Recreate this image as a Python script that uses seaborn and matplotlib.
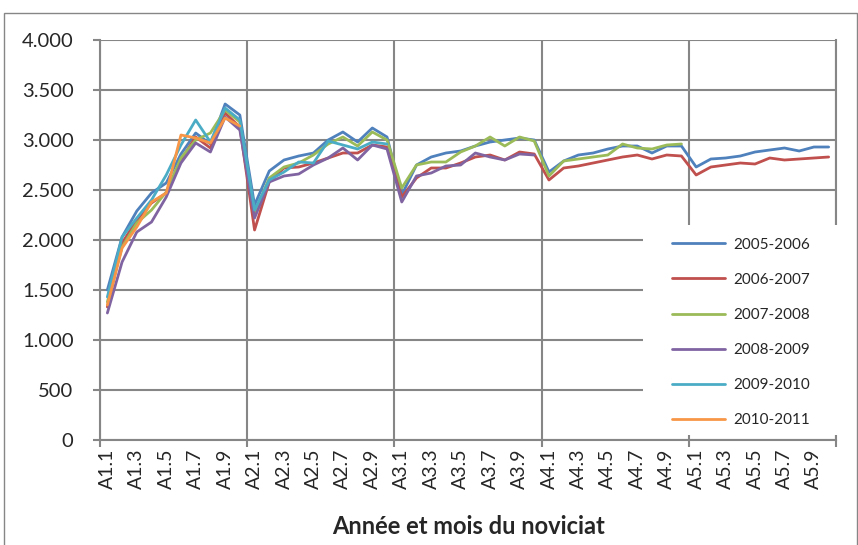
import pandas as pd
import matplotlib
matplotlib.use("Agg")
import matplotlib.pyplot as plt
import matplotlib.ticker as mticker
from matplotlib.patches import Rectangle
import seaborn as sns

# ─── data ─────────────────────────────────────────────────────────────
categories = [f"A{y}.{m}" for y in range(1, 6) for m in range(1, 11)]

s2005 = [1500, 2030, 2290, 2470, 2570, 2860, 3070, 2960, 3360, 3250,
         2350, 2690, 2800, 2840, 2870, 3000, 3080, 2980, 3120, 3030,
         2450, 2750, 2830, 2870, 2890, 2940, 2980, 3000, 3020, 3000,
         2680, 2790, 2850, 2870, 2910, 2940, 2940, 2870, 2940, 2940,
         2730, 2810, 2820, 2840, 2880, 2900, 2920, 2890, 2930, 2930]
s2006 = [1330, 1970, 2200, 2370, 2470, 2800, 3030, 2920, 3270, 3130,
         2100, 2580, 2720, 2730, 2770, 2820, 2870, 2870, 2950, 2930,
         2430, 2620, 2720, 2720, 2770, 2830, 2850, 2800, 2880, 2860,
         2600, 2720, 2740, 2770, 2800, 2830, 2850, 2810, 2850, 2840,
         2650, 2730, 2750, 2770, 2760, 2820, 2800, 2810, 2820, 2830]
s2007 = [1380, 1930, 2170, 2300, 2480, 2820, 3000, 3070, 3300, 3180,
         2270, 2620, 2730, 2770, 2850, 2960, 3030, 2940, 3080, 3000,
         2520, 2750, 2780, 2780, 2880, 2940, 3030, 2940, 3030, 2990,
         2640, 2790, 2810, 2830, 2850, 2960, 2920, 2910, 2950, 2960]
s2008 = [1270, 1780, 2080, 2180, 2430, 2770, 2970, 2880, 3230, 3100,
         2220, 2580, 2640, 2660, 2750, 2820, 2920, 2800, 2950, 2910,
         2380, 2640, 2670, 2740, 2750, 2870, 2830, 2800, 2860, 2850]
s2009 = [1430, 2030, 2220, 2400, 2650, 2950, 3200, 2980, 3320, 3200,
         2300, 2600, 2680, 2780, 2770, 2990, 2950, 2910, 2980, 2960]
s2010 = [1350, 1920, 2130, 2380, 2470, 3050, 3020, 2970, 3220, 3140]

series = {
    "2005-2006": s2005,
    "2006-2007": s2006,
    "2007-2008": s2007,
    "2008-2009": s2008,
    "2009-2010": s2009,
    "2010-2011": s2010,
}
colors = ["#4F81BD", "#C0504D", "#9BBB59", "#8064A2", "#4BACC6", "#F79646"]

rows = []
for name, vals in series.items():
    for i, v in enumerate(vals):
        rows.append({"cat": categories[i], "pos": i, "serie": name, "val": v})
df = pd.DataFrame(rows)

# ─── plot ─────────────────────────────────────────────────────────────
sns.set_style("white")
plt.rcParams["font.family"] = ["Lato", "DejaVu Sans"]

grid_c = "#868686"
fig = plt.figure(figsize=(8.58, 5.45), dpi=100)
ax = fig.add_axes([100 / 858, 1 - 440 / 545, 736 / 858, 400 / 545])

sns.lineplot(data=df, x="pos", y="val", hue="serie", hue_order=list(series),
             palette=colors, linewidth=2.0, ax=ax, legend=True)

ax.set_xlim(-0.5, len(categories) - 0.5)
ax.set_ylim(0, 4000)
ax.yaxis.set_major_locator(mticker.MultipleLocator(500))
ax.yaxis.set_major_formatter(
    mticker.FuncFormatter(lambda v, p: f"{int(v):,}".replace(",", ".")))

ax.set_xticks(range(0, len(categories), 2))
ax.set_xticklabels(categories[::2], rotation=90)
ax.set_xticks([b - 0.5 for b in range(0, len(categories) + 1, 10)], minor=True)

ax.tick_params(axis="x", which="major", length=0, labelsize=14, pad=6)
ax.tick_params(axis="x", which="minor", length=5, width=1.5, color=grid_c,
               direction="out", bottom=True)
ax.tick_params(axis="y", length=5, width=1.5, color=grid_c, labelsize=14.5,
               pad=14, left=True)

ax.grid(axis="y", which="major", color=grid_c, linewidth=1.5)
ax.grid(axis="x", which="minor", color=grid_c, linewidth=1.5)
ax.grid(axis="x", which="major", visible=False)
ax.set_axisbelow(True)

ax.spines["top"].set_visible(False)
for side in ["left", "bottom", "right"]:
    ax.spines[side].set_color(grid_c)
    ax.spines[side].set_linewidth(1.5)

ax.set_xlabel("Année et mois du noviciat", fontsize=17, fontweight="bold",
              labelpad=19)
ax.set_ylabel("")

# white area behind the legend, hides gridlines and the right edge there
ax.add_patch(Rectangle((0.738, 0.0125), 0.27, 0.525, transform=ax.transAxes,
                       facecolor="white", edgecolor="none", clip_on=False,
                       zorder=4))

leg = ax.legend(loc="upper left", bbox_to_anchor=(0.762, 0.5325),
                borderaxespad=0, frameon=False, fontsize=11,
                handlelength=3.5, handletextpad=0.55, labelspacing=1.38,
                borderpad=0.7)
leg.set_zorder(5)

fig.patches.append(Rectangle((4 / 858, -0.01), 853 / 858, (545 - 13) / 545 + 0.01,
                             transform=fig.transFigure, fill=False,
                             edgecolor=grid_c, linewidth=1.0))

fig.savefig("out.png", dpi=100)
